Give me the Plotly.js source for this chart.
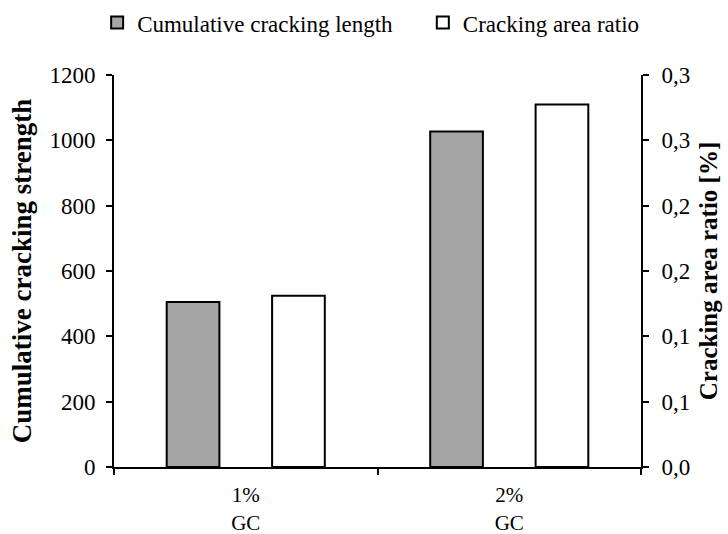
<!DOCTYPE html>
<html>
<head>
<meta charset="utf-8">
<script src="https://cdn.plot.ly/plotly-3.0.1.min.js"></script>
<style>html,body{margin:0;padding:0;background:#fff;}#chart{width:728px;height:534px;}</style>
</head>
<body>
<div id="chart"></div>
<script>
var categories = ['1%<br>GC', '2%<br>GC'];
var cumulativeLength = [505, 1027];
var areaRatio = [0.131, 0.2775];
var leftTickVals = [0, 200, 400, 600, 800, 1000, 1200];
var rightTickVals = [0, 0.05, 0.10, 0.15, 0.20, 0.25, 0.30];
var rightTickText = ['0,0', '0,1', '0,1', '0,2', '0,2', '0,3', '0,3'];

var FONT = 'Liberation Serif, Times New Roman, serif';

var traces = [
  {
    type: 'bar', name: 'Cumulative cracking length',
    x: categories, y: cumulativeLength, yaxis: 'y', legend: 'legend',
    width: 0.2, offset: -0.3,
    marker: {color: '#a6a6a6', line: {color: '#000', width: 2}},
    hoverinfo: 'none'
  },
  {
    type: 'bar', name: 'Cracking area ratio',
    x: categories, y: areaRatio, yaxis: 'y2', legend: 'legend2',
    width: 0.2, offset: 0.1,
    marker: {color: '#ffffff', line: {color: '#000', width: 2}},
    hoverinfo: 'none'
  }
];

var legendCommon = {
  orientation: 'h', xanchor: 'left', xref: 'paper',
  y: 0.998, yanchor: 'top', yref: 'container',
  font: {family: FONT, size: 23, color: '#000'},
  itemwidth: 30, bgcolor: 'rgba(0,0,0,0)'
};

var layout = {
  width: 728, height: 534,
  margin: {l: 114, r: 87, t: 75, b: 67},
  paper_bgcolor: '#fff', plot_bgcolor: '#fff',
  font: {family: FONT, size: 23, color: '#000'},
  showlegend: true,
  legend: Object.assign({}, legendCommon, {x: -0.032}),
  legend2: Object.assign({}, legendCommon, {x: 0.586}),
  xaxis: {
    type: 'category', range: [-0.5, 1.5],
    showline: true, linecolor: '#000', linewidth: 2,
    ticks: 'outside', tickson: 'boundaries', ticklen: 6, tickwidth: 2, tickcolor: '#000',
    showgrid: false, zeroline: false,
    ticklabelstandoff: 8,
    tickfont: {family: FONT, size: 21}
  },
  yaxis: {
    range: [0, 1200], tickvals: leftTickVals,
    showline: true, linecolor: '#000', linewidth: 2,
    ticks: 'outside', ticklen: 6, tickwidth: 2, tickcolor: '#000',
    showgrid: false, zeroline: false,
    ticklabelstandoff: 6,
    tickfont: {family: FONT, size: 23},
    title: {text: '<b>Cumulative cracking strength</b>', font: {family: FONT, size: 27}, standoff: 10}
  },
  yaxis2: {
    overlaying: 'y', side: 'right',
    range: [0, 0.3], tickvals: rightTickVals, ticktext: rightTickText,
    showline: true, linecolor: '#000', linewidth: 2,
    ticks: 'outside', ticklen: 6, tickwidth: 2, tickcolor: '#000',
    showgrid: false, zeroline: false,
    ticklabelstandoff: 8,
    tickfont: {family: FONT, size: 23},
    title: {text: '<b>Cracking area ratio [%]</b>', font: {family: FONT, size: 25}, standoff: 10}
  },
  bargap: 0, barmode: 'overlay'
};

Plotly.newPlot('chart', traces, layout, {displayModeBar: false, staticPlot: true});
</script>
</body>
</html>
